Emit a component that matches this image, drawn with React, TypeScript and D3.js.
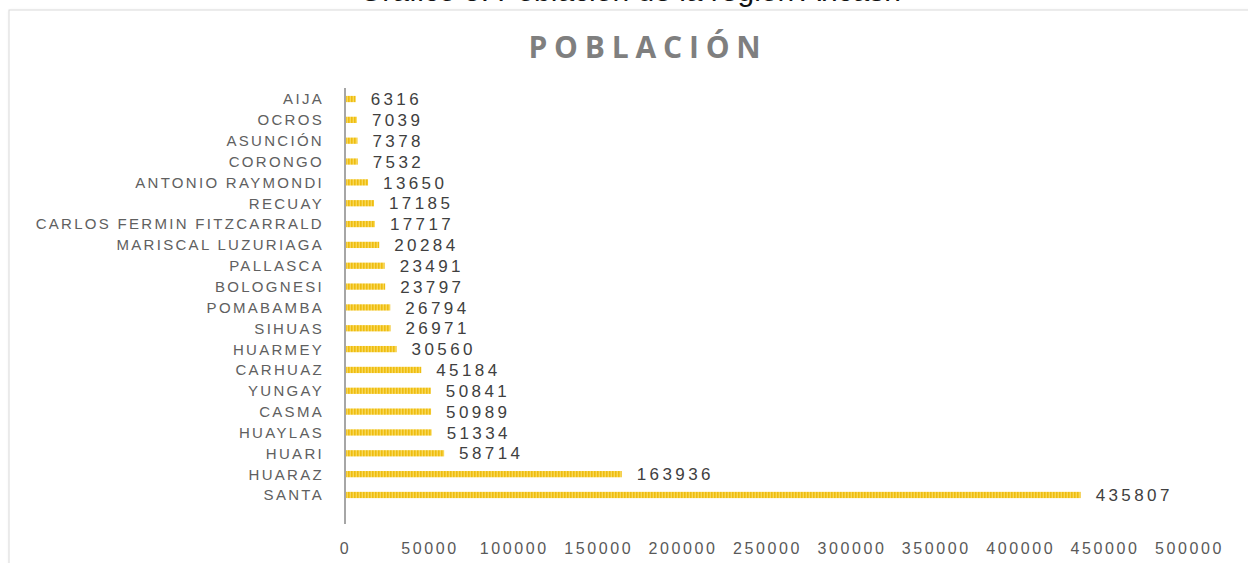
import React, { useEffect, useRef } from 'react';
import * as d3 from 'd3';

const W = 1248;
const H = 563;

// provinces, top to bottom as in the chart
const provinces = [
  'AIJA',
  'OCROS',
  'ASUNCIÓN',
  'CORONGO',
  'ANTONIO RAYMONDI',
  'RECUAY',
  'CARLOS FERMIN FITZCARRALD',
  'MARISCAL LUZURIAGA',
  'PALLASCA',
  'BOLOGNESI',
  'POMABAMBA',
  'SIHUAS',
  'HUARMEY',
  'CARHUAZ',
  'YUNGAY',
  'CASMA',
  'HUAYLAS',
  'HUARI',
  'HUARAZ',
  'SANTA',
];

const population = [
  6316, 7039, 7378, 7532, 13650, 17185, 17717, 20284, 23491, 23797, 26794,
  26971, 30560, 45184, 50841, 50989, 51334, 58714, 163936, 435807,
];

const xTicks = [0, 50000, 100000, 150000, 200000, 250000, 300000, 350000, 400000, 450000, 500000];

const margin = { top: 88, left: 345, right: 59, bottom: 57 };

export default function App() {
  const ref = useRef<SVGSVGElement>(null);

  useEffect(() => {
    if (!ref.current) return;
    const svg = d3.select(ref.current);
    svg.selectAll('*').remove();

    const data = provinces.map((name, i) => ({ name, value: population[i] }));

    // striped fill like the original bars
    const defs = svg.append('defs');
    const pat = defs
      .append('pattern')
      .attr('id', 'stripes')
      .attr('patternUnits', 'userSpaceOnUse')
      .attr('width', 3)
      .attr('height', 6);
    pat.append('rect').attr('width', 3).attr('height', 6).attr('fill', '#f8d757');
    pat.append('rect').attr('width', 1.6).attr('height', 6).attr('fill', '#eebd10');

    const shadow = defs.append('filter').attr('id', 'shadow').attr('x', -0.05).attr('y', -0.05).attr('width', 1.1).attr('height', 1.1);
    shadow.append('feDropShadow').attr('dx', 1).attr('dy', 1).attr('stdDeviation', 1.5).attr('flood-color', '#000').attr('flood-opacity', 0.12);

    // caption above the frame, cut by the top edge as in the source image
    svg
      .append('text')
      .attr('x', 630)
      .attr('y', 1)
      .attr('text-anchor', 'middle')
      .style('font-family', '"Liberation Sans", Arial, sans-serif')
      .style('font-size', '30px')
      .attr('fill', '#111')
      .text('Gráfico 5: Población de la región Ancash');

    // chart frame
    svg
      .append('rect')
      .attr('x', 9)
      .attr('y', 10)
      .attr('width', W + 20)
      .attr('height', H + 20)
      .attr('fill', '#fff')
      .attr('stroke', '#d9d9d9')
      .attr('stroke-width', 1)
      .attr('filter', 'url(#shadow)');

    svg
      .append('text')
      .attr('x', 648)
      .attr('y', 58)
      .attr('text-anchor', 'middle')
      .style('font-family', '"Open Sans", "DejaVu Sans", sans-serif')
      .style('font-size', '30px')
      .style('font-weight', 700)
      .style('letter-spacing', '6.8px')
      .attr('fill', '#7f7f7f')
      .text('POBLACIÓN');

    const x = d3
      .scaleLinear()
      .domain([0, 500000])
      .range([margin.left, W - margin.right]);

    const y = d3
      .scaleBand<string>()
      .domain(provinces)
      .range([margin.top + 0.6, margin.top + 0.6 + 20 * 20.84])
      .paddingInner(0.7)
      .paddingOuter(0.35);

    const g = svg.append('g');

    g.selectAll('rect.bar')
      .data(data)
      .enter()
      .append('rect')
      .attr('class', 'bar')
      .attr('x', x(0) + 1)
      .attr('y', (d) => y(d.name)!)
      .attr('width', (d) => x(d.value) - x(0) - 1)
      .attr('height', y.bandwidth())
      .attr('fill', 'url(#stripes)');

    // value labels
    g.selectAll('text.val')
      .data(data)
      .enter()
      .append('text')
      .attr('class', 'val')
      .attr('x', (d) => x(d.value) + 15)
      .attr('y', (d) => y(d.name)! + y.bandwidth() / 2)
      .attr('dy', '0.36em')
      .style('font-family', '"Liberation Sans", Arial, sans-serif')
      .style('font-size', '17px')
      .style('letter-spacing', '3.4px')
      .attr('fill', '#404040')
      .text((d) => String(d.value));

    // category labels
    g.selectAll('text.cat')
      .data(data)
      .enter()
      .append('text')
      .attr('class', 'cat')
      .attr('x', margin.left - 21)
      .attr('y', (d) => y(d.name)! + y.bandwidth() / 2)
      .attr('dy', '0.36em')
      .attr('text-anchor', 'end')
      .style('font-family', '"Liberation Sans", Arial, sans-serif')
      .style('font-size', '15px')
      .style('letter-spacing', '2.3px')
      .attr('fill', '#606060')
      .text((d) => d.name);

    // vertical axis line
    g.append('line')
      .attr('x1', x(0))
      .attr('x2', x(0))
      .attr('y1', 88)
      .attr('y2', 524)
      .attr('stroke', '#a6a6a6')
      .attr('stroke-width', 2);

    // x axis tick labels
    const xAxis = g
      .append('g')
      .attr('transform', 'translate(0, 548)')
      .call(
        d3
          .axisBottom(x)
          .tickValues(xTicks)
          .tickSize(0)
          .tickPadding(0)
          .tickFormat((d) => String(d))
      );
    xAxis.select('.domain').remove();
    xAxis
      .selectAll('text')
      .attr('dy', '0.36em')
      .style('font-family', '"Liberation Sans", Arial, sans-serif')
      .style('font-size', '16px')
      .style('letter-spacing', '2.6px')
      .attr('fill', '#595959');
  }, []);

  return (
    <div style={{ position: 'fixed', left: 0, top: 0, width: W, height: H, background: '#fff' }}>
      <svg ref={ref} width={W} height={H} style={{ display: 'block' }} />
    </div>
  );
}
